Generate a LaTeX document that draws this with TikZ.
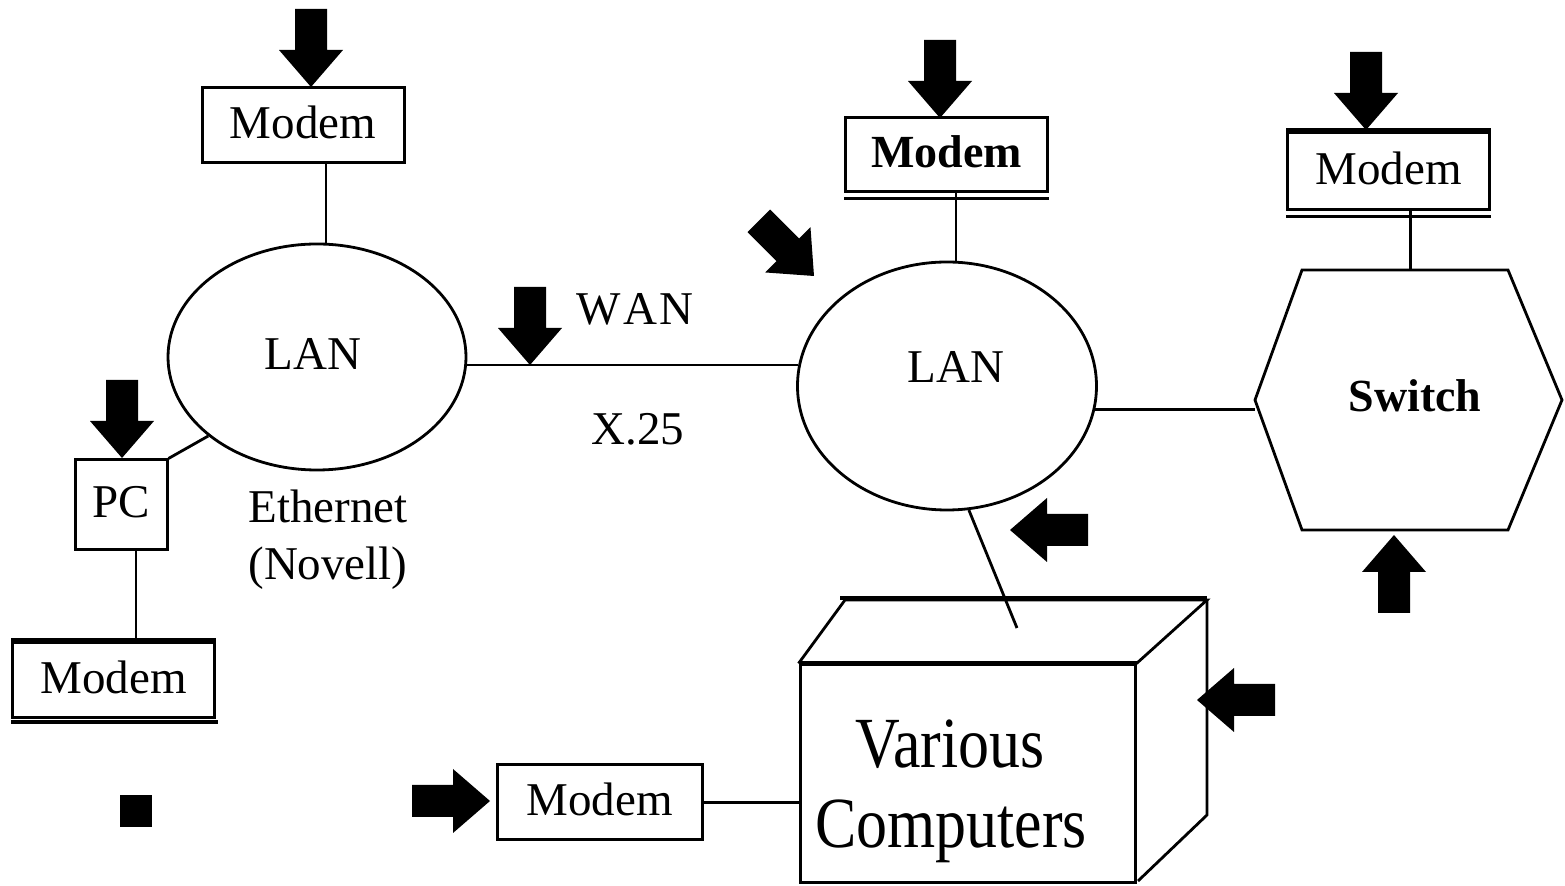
\documentclass[tikz,border=0pt]{standalone}
\usepackage{fontspec}
\setmainfont{Liberation Serif}
\usetikzlibrary{shapes.geometric}
\begin{document}
\begin{tikzpicture}[x=0.5pt,y=-0.5pt,
  every node/.style={font=\fontsize{23.5}{27}\selectfont, inner sep=0pt},
  box/.style={draw, line width=1.5pt, minimum width=101pt, minimum height=37.5pt, text depth=3.5pt},
  wire/.style={line width=1.4pt},
  lan/.style={draw, ellipse, line width=1.4pt, minimum width=149pt, minimum height=113pt},
  boldtext/.style={font=\fontsize{23}{27}\selectfont\bfseries},
  bigtext/.style={font=\fontsize{36}{40}\selectfont},
  pics/barrow/.style={code={
    \fill (0,0) -- (-32,-37) -- (-16,-37) -- (-16,-78) -- (16,-78) -- (16,-37) -- (32,-37) -- cycle;}}
]
\useasboundingbox (0,0) rectangle (1565,886);

% ---- left network ----
\node[box] (m1) at (303,125.5) {Modem};
\node[lan] (lan1) at (317,357) {};
\node[anchor=base] (lanA) at (313,370) {LAN};
\node[box, minimum width=46pt, minimum height=45pt] (pc) at (121,505) {PC};
\node[box] (m4) at (113.5,680.5) {Modem};
\draw[line width=2.2pt] ([yshift=0.5pt]m4.north west) -- ([yshift=0.5pt]m4.north east);
\draw[line width=2pt] ([yshift=-1.5pt]m4.south west) -- ([xshift=1pt,yshift=-1.5pt]m4.south east);
\node[anchor=base] (eth) at (328,523) {Ethernet};
\node[anchor=base] (nov) at (328,580) {(Novell)};

\draw[wire] ([xshift=11.5pt]m1.south) -- ([xshift=11.5pt]m1.south |- lan1.north);
\draw[wire] (lan1.216) -- (pc.north east);
\draw[wire] ([xshift=7.5pt]pc.south) -- ([xshift=7.5pt]pc.south |- m4.north);

% ---- WAN link ----
\node[lan, minimum width=149.5pt, minimum height=124pt] (lan2) at (947,386) {};
\node[anchor=base] (lanB) at (956,383) {LAN};
\draw[wire] (lan2.172) -- (lan2.172 -| lan1.east);
\node[anchor=base] (wan) at (635,325) {W\kern1pt A\kern1pt N};
\node[anchor=base] (x25) at (638,445) {X.25};

% ---- right network ----
\node[box, boldtext, minimum height=37pt] (m2) at (946.5,155) {Modem};
\draw[line width=1.8pt] ([yshift=-2.5pt]m2.south west) -- ([yshift=-2.5pt]m2.south east);
\draw[wire] ([xshift=4.75pt]m2.south) -- ([xshift=4.75pt]m2.south |- lan2.north);

\node[box, minimum height=38.5pt] (m3) at (1388.5,171.5) {Modem};
\draw[line width=2.4pt] ([yshift=0.6pt]m3.north west) -- ([yshift=0.6pt]m3.north east);
\draw[line width=1.8pt] ([yshift=-2.5pt]m3.south west) -- ([yshift=-2.5pt]m3.south east);

% switch hexagon
\node[boldtext] (sw) at (1415,396) {Switch};
\coordinate (h1) at (1302,270);
\coordinate (h2) at (1508,270);
\coordinate (h3) at (1562,400);
\coordinate (h4) at (1508,530);
\coordinate (h5) at (1302,530);
\coordinate (h6) at (1255,400);
\draw[wire, line join=miter] (h1) -- (h2) -- (h3) -- (h4) -- (h5) -- (h6) -- cycle;
\draw[wire] ([xshift=11pt]m3.south) -- ([xshift=11pt]m3.south |- h1);
\draw[wire] (lan2.-9) -- (lan2.-9 -| h6);

% computers cube
\node[draw, line width=1.5pt, minimum width=167.5pt, minimum height=109pt] (cube) at (967.5,774) {};
\draw[wire, line join=miter] (cube.north west) -- (845,600) -- (1207,600) -- (cube.north east);
\draw[line width=2.2pt] (840,598) -- (1207,598);
\draw[line width=2.4pt] (cube.north west) -- (cube.north east);
\draw[wire, line join=miter] (1207,600) -- (1207,815) -- (1138,881);
\node[bigtext, anchor=base] (var) at (950,768) {\scalebox{0.86}[1]{Various}};
\node[bigtext, anchor=base] (comp) at (951,848) {\scalebox{0.86}[1]{Computers}};
\coordinate (ctop) at (1017,628);
\draw[wire] (lan2.-80) -- (ctop);

\node[box, minimum width=102.5pt] (m5) at (599.5,802.5) {Modem};
\draw[wire] (m5.east) -- (m5.east -| cube.west);

% ---- block arrows ----
\pic at (311,87) {barrow};
\pic at (122,458) {barrow};
\pic at (530,365) {barrow};
\pic[rotate=45] at (814,276) {barrow};
\pic at (940,118) {barrow};
\pic at (1366,130) {barrow};
\pic[rotate=180] at (1394,535) {barrow};
\pic[rotate=-90] at (1010,530) {barrow};
\pic[rotate=-90] at (1197,700) {barrow};
\pic[rotate=90] at (490,801) {barrow};

% small marker
\fill (120,795) rectangle (152,827);
\end{tikzpicture}
\end{document}
